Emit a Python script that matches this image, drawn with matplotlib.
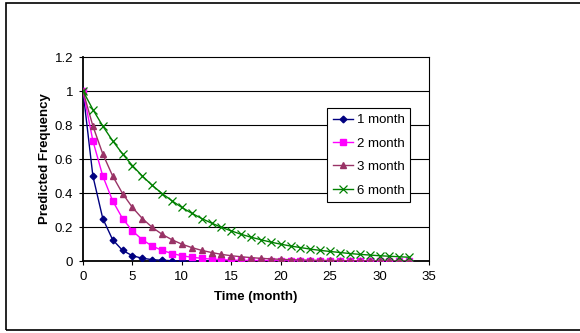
import matplotlib
matplotlib.use("Agg")
import matplotlib.pyplot as plt
from matplotlib.patches import Rectangle

plt.rcParams["font.family"] = ["Liberation Sans", "DejaVu Sans"]

months = list(range(34))
one_month = [1.0, 0.5, 0.25, 0.125, 0.0625, 0.031, 0.016, 0.008, 0.004, 0.002,
             0.001, 0.0005, 0.0002, 0.0001, 0, 0, 0, 0, 0, 0, 0, 0, 0, 0, 0, 0,
             0, 0, 0, 0, 0, 0, 0, 0]
two_month = [1.0, 0.707, 0.5, 0.354, 0.25, 0.177, 0.125, 0.088, 0.0625, 0.044,
             0.031, 0.022, 0.016, 0.011, 0.008, 0.0055, 0.0039, 0.0028, 0.002,
             0.0014, 0.001, 0.0007, 0.0005, 0.0003, 0.0002, 0.0002, 0.0001,
             0.0001, 0, 0, 0, 0, 0, 0]
three_month = [1.0, 0.794, 0.63, 0.5, 0.397, 0.315, 0.25, 0.198, 0.157, 0.125,
               0.099, 0.079, 0.0625, 0.05, 0.039, 0.031, 0.025, 0.02, 0.0156,
               0.0124, 0.0098, 0.0078, 0.0062, 0.0049, 0.0039, 0.0031, 0.0025,
               0.002, 0.0015, 0.0012, 0.001, 0.0008, 0.0006, 0.0005]
six_month = [1.0, 0.891, 0.794, 0.707, 0.63, 0.561, 0.5, 0.445, 0.397, 0.354,
             0.315, 0.281, 0.25, 0.223, 0.198, 0.177, 0.157, 0.14, 0.125, 0.111,
             0.099, 0.088, 0.079, 0.07, 0.0625, 0.056, 0.05, 0.044, 0.039,
             0.035, 0.031, 0.028, 0.025, 0.022]

x_ticks = [0, 5, 10, 15, 20, 25, 30, 35]
y_ticks = [0, 0.2, 0.4, 0.6, 0.8, 1.0, 1.2]
y_tick_labels = ["0", "0.2", "0.4", "0.6", "0.8", "1", "1.2"]

fig = plt.figure(figsize=(5.8, 3.33), dpi=100)
ax = fig.add_axes([83 / 580, 1 - 261 / 333, 346 / 580, 204 / 333])

# outer chart border, runs off the right edge like the original
fig.patches.append(Rectangle((6 / 580, 3 / 333), 1.2, 327 / 333,
                             transform=fig.transFigure, fill=False,
                             edgecolor="black", linewidth=1.2))

for y in y_ticks[1:-1]:
    ax.axhline(y, color="black", linewidth=0.8, zorder=1)

ax.plot(months, one_month, color="#000080", marker="D", markersize=3.4,
        linewidth=1.0, label="1 month", zorder=3)
ax.plot(months, two_month, color="#FF00FF", marker="s", markersize=4.2,
        linewidth=1.0, label="2 month", zorder=3)
ax.plot(months, three_month, color="#993366", marker="^", markersize=4.8,
        linewidth=1.0, label="3 month", zorder=3)
ax.plot(months, six_month, color="#008000", marker="x", markersize=5.2,
        markeredgewidth=0.9, linewidth=1.0, label="6 month", zorder=3)

ax.set_xlim(0, 35)
ax.set_ylim(0, 1.2)
ax.set_xticks(x_ticks)
ax.set_yticks(y_ticks)
ax.set_yticklabels(y_tick_labels)
ax.tick_params(direction="out", length=3, width=0.8, labelsize=9.5, pad=4)

for side in ["top", "right"]:
    ax.spines[side].set_linewidth(0.8)
ax.spines["left"].set_linewidth(1.3)
ax.spines["bottom"].set_linewidth(1.3)

ax.set_xlabel("Time (month)", fontsize=9.5, fontweight="bold", labelpad=6)
ax.set_ylabel("Predicted Frequency", fontsize=9.5, fontweight="bold", labelpad=3)

leg = ax.legend(loc="upper left", bbox_to_anchor=(0.705, 0.75), borderaxespad=0,
                fontsize=9.5, frameon=True, fancybox=False, framealpha=1,
                edgecolor="black", handlelength=1.5, labelspacing=0.85,
                borderpad=0.45, handletextpad=0.3)
leg.get_frame().set_linewidth(0.8)
leg.set_zorder(5)

fig.savefig("out.png", dpi=100)
